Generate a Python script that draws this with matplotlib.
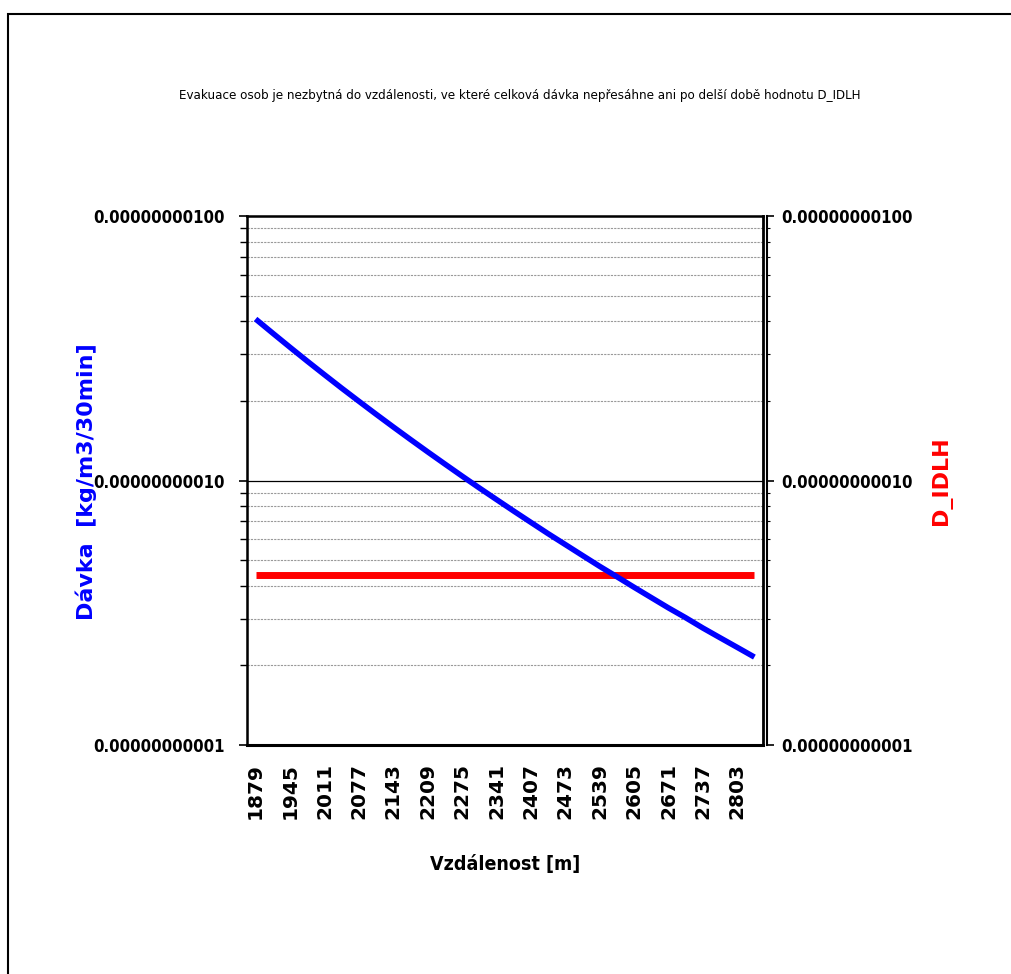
import numpy as np
import matplotlib.pyplot as plt
from matplotlib.patches import Rectangle
from matplotlib.ticker import LogLocator, NullFormatter, FixedLocator, FixedFormatter

# vzdalenosti [m] - kategorie po 33 m
vzdalenost = [1879, 1912, 1945, 1978, 2011, 2044, 2077, 2110, 2143, 2176,
              2209, 2242, 2275, 2308, 2341, 2374, 2407, 2440, 2473, 2506,
              2539, 2572, 2605, 2638, 2671, 2704, 2737, 2770, 2803, 2836]
# celkova davka [kg/m3/30min]
davka = [4.08e-10, 3.605e-10, 3.19e-10, 2.828e-10, 2.513e-10, 2.236e-10,
         1.995e-10, 1.782e-10, 1.595e-10, 1.430e-10, 1.284e-10, 1.155e-10,
         1.040e-10, 9.38e-11, 8.48e-11, 7.67e-11, 6.95e-11, 6.30e-11,
         5.73e-11, 5.21e-11, 4.74e-11, 4.33e-11, 3.95e-11, 3.61e-11,
         3.30e-11, 3.03e-11, 2.77e-11, 2.545e-11, 2.34e-11, 2.15e-11]
# D_IDLH
d_idlh = [4.38e-11] * 30
y_ticks = [1e-11, 1e-10, 1e-9]
y_labels = ['0.00000000001', '0.00000000010', '0.00000000100']

titulek = ('Evakuace osob je nezbytná do vzdálenosti, ve které celková dávka '
           'nepřesáhne ani po delší době hodnotu D_IDLH')

# uzsi pismo jako v puvodnim grafu
plt.rcParams['font.family'] = ['DejaVu Sans']
plt.rcParams['font.stretch'] = 'condensed'

fig = plt.figure(figsize=(10.11, 9.74), dpi=100)
ax = fig.add_axes([0.2443, 0.2351, 0.5104, 0.5431])

x = np.arange(len(vzdalenost))
ax.plot(x, d_idlh, color='#ff0000', lw=5, solid_capstyle='butt', zorder=3)
ax.plot(x, davka, color='#0000ff', lw=4, solid_capstyle='butt', zorder=4)

ax.set_yscale('log')
ax.set_ylim(1e-11, 1e-9)
ax.set_xlim(-0.5, len(x) - 0.5)

# mrizka
ax.yaxis.set_major_locator(FixedLocator(y_ticks))
ax.yaxis.set_major_formatter(FixedFormatter(y_labels))
ax.yaxis.set_minor_locator(LogLocator(base=10, subs=np.arange(2, 10)))
ax.yaxis.set_minor_formatter(NullFormatter())
ax.grid(which='minor', axis='y', color='#999999', ls=(0, (2, 1)), lw=0.8)
ax.axhline(1e-10, color='black', lw=0.9, zorder=2)
ax.tick_params(axis='y', which='major', direction='out', length=6, width=1.2,
               pad=10, labelsize=12)
ax.tick_params(axis='y', which='minor', direction='out', length=5, width=1.0)

ax.set_xticks(x[::2])
ax.set_xticklabels([str(v) for v in vzdalenost[::2]], rotation=90,
                   fontsize=14.5, fontweight='bold', stretch='normal')
ax.tick_params(axis='x', length=0, pad=13)

for s in ['top', 'left']:
    ax.spines[s].set_linewidth(1.8)
ax.spines['bottom'].set_linewidth(2.2)
ax.spines['right'].set_linewidth(2.0)

# prava osa
ax2 = ax.twinx()
ax2.set_yscale('log')
ax2.set_ylim(1e-11, 1e-9)
ax2.yaxis.set_major_locator(FixedLocator(y_ticks))
ax2.yaxis.set_major_formatter(FixedFormatter(y_labels))
ax2.yaxis.set_minor_locator(LogLocator(base=10, subs=np.arange(2, 10)))
ax2.yaxis.set_minor_formatter(NullFormatter())
ax2.tick_params(axis='y', which='major', direction='out', length=5, width=1.2,
                pad=5, labelsize=12)
ax2.tick_params(axis='y', which='minor', direction='out', length=2, width=0.8)
ax2.spines['right'].set_linewidth(1.5)
ax2.spines['right'].set_position(('outward', 3))
for t in ax.get_yticklabels() + ax2.get_yticklabels():
    t.set_fontweight('bold')

fig.text(0.514, 0.902, titulek, ha='center', va='center', fontsize=9.5)
ax.set_xlabel('Vzdálenost [m]', fontsize=14, fontweight='bold', labelpad=26)
fig.text(0.085, 0.506, 'Dávka  [kg/m3/30min]', rotation=90, ha='center', va='center',
         color='#0000ff', fontsize=16, fontweight='bold', stretch='normal')
fig.text(0.931, 0.506, 'D_IDLH', rotation=90, ha='center', va='center',
         color='#ff0000', fontsize=16, fontweight='bold', stretch='normal')

# ramecek grafu
fig.patches.append(Rectangle((8 / 1011, -0.1), 1.2, 0.1 + (974 - 14) / 974,
                             transform=fig.transFigure, fill=False,
                             edgecolor='black', lw=1.5))

fig.savefig('out.png', dpi=100)
